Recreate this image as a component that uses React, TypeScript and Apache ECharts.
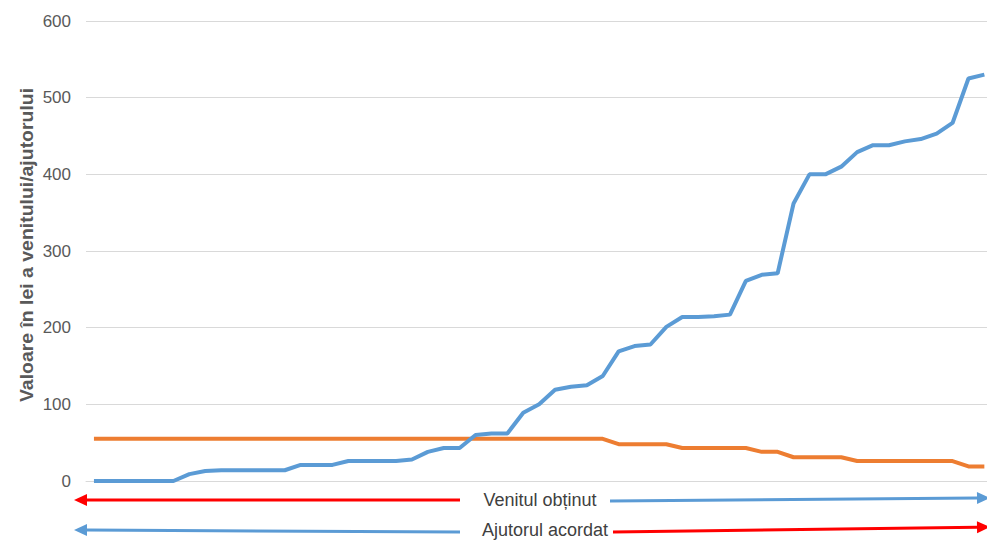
import React, { useEffect, useRef } from "react";
import * as echarts from "echarts";

const categories: string[] = Array.from({ length: 57 }, (_, i) => String(i + 1));

const venitul: number[] = [
  0, 0, 0, 0, 0, 0, 9, 13, 14, 14, 14, 14, 14, 21, 21, 21, 26, 26, 26, 26,
  28, 38, 43, 43, 60, 62, 62, 89, 100, 119, 123, 125, 137, 169, 176, 178, 201, 214, 214, 215,
  217, 261, 269, 271, 362, 400, 400, 410, 429, 438, 438, 443, 446, 453, 467, 525, 530,
];

const ajutorul: number[] = [
  55, 55, 55, 55, 55, 55, 55, 55, 55, 55, 55, 55, 55, 55, 55, 55, 55, 55, 55, 55,
  55, 55, 55, 55, 55, 55, 55, 55, 55, 55, 55, 55, 55, 48, 48, 48, 48, 43, 43, 43,
  43, 43, 38, 38, 31, 31, 31, 31, 26, 26, 26, 26, 26, 26, 26, 19, 19,
];

const yTicks = { min: 0, max: 600, interval: 100 };
const yTitle = "Valoare în lei a venitului/ajutorului";
const arrowLabels = ["Venitul obținut", "Ajutorul acordat"];

const BLUE = "#5B9BD5";
const ORANGE = "#ED7D31";
const RED = "#FF0000";
const FONT = "'Liberation Sans', Arial, sans-serif";

function arrow(x1: number, y1: number, x2: number, y2: number, color: string) {
  // x2,y2 is the tip
  const dx = x2 - x1;
  const dy = y2 - y1;
  const len = Math.sqrt(dx * dx + dy * dy);
  const ux = dx / len;
  const uy = dy / len;
  const hl = 13;
  const hw = 6;
  const bx = x2 - ux * hl;
  const by = y2 - uy * hl;
  return [
    {
      type: "line",
      shape: { x1, y1, x2: bx, y2: by },
      style: { stroke: color, lineWidth: 3 },
      silent: true,
    },
    {
      type: "polygon",
      shape: {
        points: [
          [x2, y2],
          [bx - uy * hw, by + ux * hw],
          [bx + uy * hw, by - ux * hw],
        ],
      },
      style: { fill: color },
      silent: true,
    },
  ];
}

export default function App() {
  const ref = useRef<HTMLDivElement>(null);
  useEffect(() => {
    if (!ref.current) return;
    const chart = echarts.init(ref.current, undefined, { renderer: "svg" });
    chart.setOption({
      animation: false,
      backgroundColor: "#ffffff",
      grid: { left: 86, right: 7.7, top: 21, bottom: 60 },
      xAxis: {
        type: "category",
        data: categories,
        boundaryGap: true,
        axisLine: { show: true, lineStyle: { color: "#D9D9D9", width: 1 } },
        axisTick: { show: false },
        axisLabel: { show: false },
      },
      yAxis: {
        type: "value",
        min: yTicks.min,
        max: yTicks.max,
        interval: yTicks.interval,
        axisLine: { show: false },
        axisTick: { show: false },
        axisLabel: { color: "#595959", fontSize: 17, fontFamily: FONT, margin: 15 },
        splitLine: { lineStyle: { color: "#D9D9D9", width: 1 } },
      },
      series: [
        {
          name: "Venitul obținut",
          type: "line",
          data: venitul,
          symbol: "none",
          lineStyle: { color: BLUE, width: 4 },
          itemStyle: { color: BLUE },
          z: 3,
        },
        {
          name: "Ajutorul acordat",
          type: "line",
          data: ajutorul,
          symbol: "none",
          lineStyle: { color: ORANGE, width: 4 },
          itemStyle: { color: ORANGE },
          z: 2,
        },
      ],
      graphic: [
        {
          type: "text",
          x: 27,
          y: 245,
          rotation: Math.PI / 2,
          scaleX: 1.08,
          style: {
            text: yTitle,
            fill: "#595959",
            font: `bold 18px ${FONT}`,
            textAlign: "center",
            textVerticalAlign: "middle",
          },
        },
        ...arrow(460, 500, 74, 500, RED),
        {
          type: "text",
          x: 540,
          y: 500,
          style: {
            text: arrowLabels[0],
            fill: "#404040",
            font: `18px ${FONT}`,
            textAlign: "center",
            textVerticalAlign: "middle",
          },
        },
        ...arrow(610, 501, 990, 498, BLUE),
        ...arrow(460, 532, 74, 530, BLUE),
        {
          type: "text",
          x: 545,
          y: 530,
          style: {
            text: arrowLabels[1],
            fill: "#404040",
            font: `18px ${FONT}`,
            textAlign: "center",
            textVerticalAlign: "middle",
          },
        },
        ...arrow(613, 532, 990, 527, RED),
      ],
    });
    return () => chart.dispose();
  }, []);
  return (
    <div
      ref={ref}
      style={{ position: "fixed", left: 0, top: 0, width: 1000, height: 541 }}
    />
  );
}
